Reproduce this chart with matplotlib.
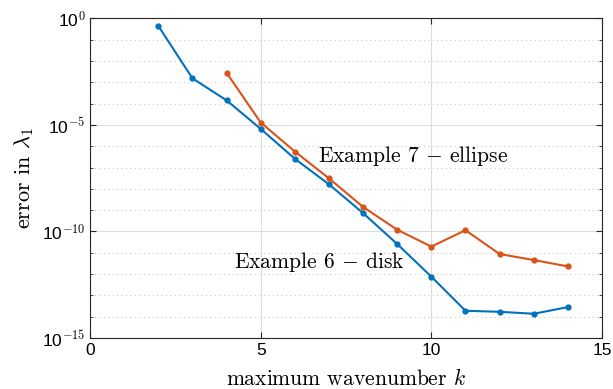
import numpy as np
import matplotlib.pyplot as plt
from matplotlib.ticker import FixedLocator, FuncFormatter, NullFormatter

plt.rcParams['mathtext.fontset'] = 'cm'
plt.rcParams['font.family'] = ['Liberation Sans', 'DejaVu Sans']

# -----------------------
# Data (log10 of the error)
# -----------------------
k_disk = [2, 3, 4, 5, 6, 7, 8, 9, 10, 11, 12, 13, 14]
log_err_disk = [-0.36, -2.82, -3.85, -5.19, -6.59, -7.79, -9.14, -10.59,
                -12.12, -13.72, -13.77, -13.86, -13.55]

k_ellipse = [4, 5, 6, 7, 8, 9, 10, 11, 12, 13, 14]
log_err_ellipse = [-2.56, -4.89, -6.25, -7.51, -8.85, -9.92, -10.71,
                   -9.94, -11.06, -11.34, -11.64]

err_disk = 10.0 ** np.array(log_err_disk)
err_ellipse = 10.0 ** np.array(log_err_ellipse)

blue = '#0072BD'
orange = '#D95319'

fig = plt.figure(figsize=(6.13, 3.89), dpi=100)
ax = fig.add_axes([0.147, 0.131, 0.835, 0.822])

ax.semilogy(k_disk, err_disk, '-o', color=blue, lw=1.5, ms=3.5, zorder=3)
ax.semilogy(k_ellipse, err_ellipse, '-o', color=orange, lw=1.5, ms=3.5, zorder=3)

ax.set_xlim(0, 15)
ax.set_ylim(1e-15, 1e0)

# ticks
ax.xaxis.set_major_locator(FixedLocator([0, 5, 10, 15]))
ax.yaxis.set_major_locator(FixedLocator([1e-15, 1e-10, 1e-5, 1e0]))
ax.yaxis.set_minor_locator(FixedLocator([10.0 ** e for e in range(-15, 1)]))
ax.yaxis.set_minor_formatter(NullFormatter())


def pow_fmt(v, pos):
    e = int(round(np.log10(v)))
    return '10$^{\\mathsf{%d}}$' % e


ax.yaxis.set_major_formatter(FuncFormatter(pow_fmt))
ax.tick_params(which='both', direction='in', top=True, right=True,
               labelsize=12.5, color='#262626')
ax.tick_params(which='major', length=4)
ax.tick_params(which='minor', length=2.5)

# grid
ax.grid(True, which='major', color='#dcdcdc', lw=0.8, zorder=0)
ax.grid(True, which='minor', axis='y', color='#c8c8c8', lw=0.8,
        linestyle=(0, (1, 3)), zorder=0)
ax.set_axisbelow(True)
for s in ax.spines.values():
    s.set_color('#262626')
    s.set_linewidth(0.8)

ax.set_xlabel('maximum wavenumber $k$', family='cmr10', fontsize=15.5)
ax.set_ylabel('error in $\\lambda_1$', family='cmr10', fontsize=16)
ax.xaxis.set_label_coords(0.5, -0.095)
ax.yaxis.set_label_coords(-0.105, 0.5)

ax.text(6.68, 10 ** -6.45, 'Example 7 $-$ ellipse', family='cmr10',
        fontsize=15.5, va='center', ha='left')
ax.text(4.22, 10 ** -11.45, 'Example 6 $-$ disk', family='cmr10',
        fontsize=15.5, va='center', ha='left')

fig.savefig('out.png', dpi=100)
